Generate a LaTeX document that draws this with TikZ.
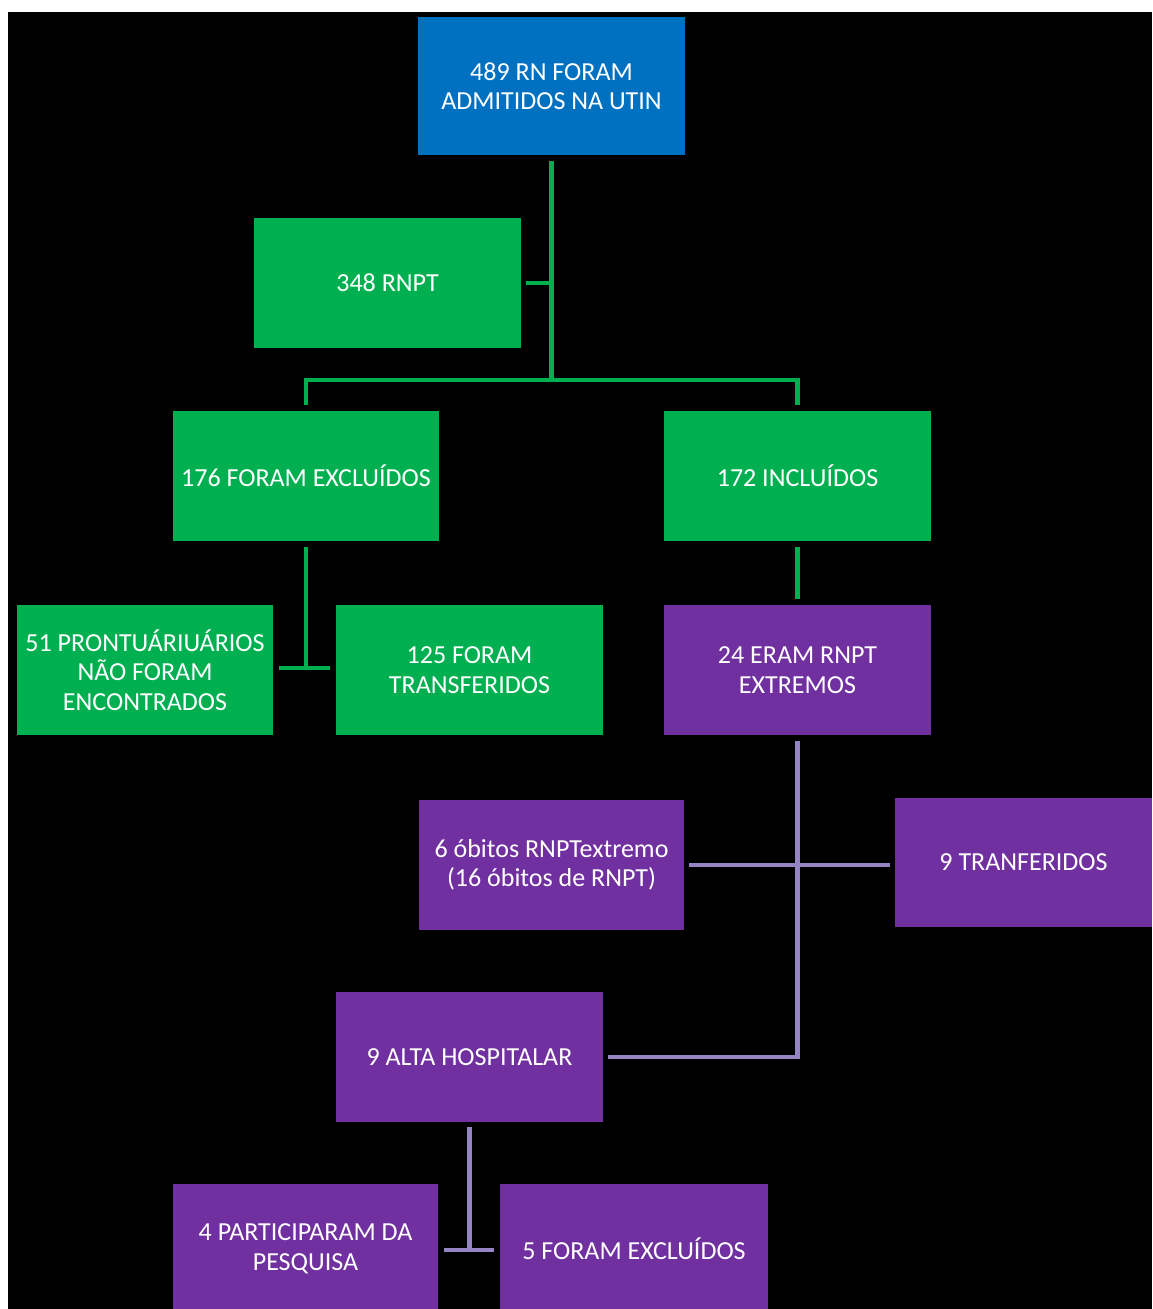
\documentclass[tikz,border=0pt]{standalone}
\usepackage{fontspec}
\setmainfont{Carlito}
\usetikzlibrary{calc}
\definecolor{cblue}{HTML}{0070C0}
\definecolor{cgreen}{HTML}{00B050}
\definecolor{cpurple}{HTML}{7030A0}
\definecolor{clav}{HTML}{9584C4}
\tikzset{
  bx/.style={draw=none, inner sep=0pt, align=center, text=white,
    font=\fontsize{26}{29.5}\selectfont},
  gbox/.style={bx, fill=cgreen},
  pbox/.style={bx, fill=cpurple},
  bbox/.style={bx, fill=cblue},
  gline/.style={draw=cgreen, line width=4.5pt},
  pline/.style={draw=clav, line width=4.5pt},
}
\begin{document}
\begin{tikzpicture}[x=1pt, y=-1pt]
\useasboundingbox (0,0) rectangle (1152,1309);
\fill[white] (0,0) rectangle (1152,1309);
\fill[black] (8,12) rectangle (1152,1309);

\node[bbox, minimum width=267pt, minimum height=138pt] (top) at (551.5,86) {489 RN FORAM\\ADMITIDOS NA UTIN};
\node[gbox, minimum width=267pt, minimum height=130pt] (n348) at (387.5,283) {348 RNPT};
\node[gbox, minimum width=266pt, minimum height=130pt] (excl) at (306,476) {176 FORAM EXCLUÍDOS};
\node[gbox, minimum width=267pt, minimum height=130pt] (incl) at (797.5,476) {172 INCLUÍDOS};
\node[gbox, minimum width=256pt, minimum height=130pt] (pront) at (145,670) {51 PRONTUÁRIUÁRIOS\\NÃO FORAM\\ENCONTRADOS};
\node[gbox, minimum width=267pt, minimum height=130pt] (transf) at (469.5,670) {125 FORAM\\TRANSFERIDOS};
\node[pbox, minimum width=267pt, minimum height=130pt] (eram) at (797.5,670) {24 ERAM RNPT\\EXTREMOS};
\node[pbox, minimum width=265pt, minimum height=130pt] (obitos) at (551.5,865) {6 óbitos RNPTextremo\\(16 óbitos de RNPT)};
\node[pbox, minimum width=257pt, minimum height=129pt] (tranf9) at (1023.5,862.5) {9 TRANFERIDOS};
\node[pbox, minimum width=267pt, minimum height=130pt] (alta) at (469.5,1057) {9 ALTA HOSPITALAR};
\node[pbox, minimum width=265pt, minimum height=130pt] (part) at (305.5,1249) {4 PARTICIPARAM DA\\PESQUISA};
\node[pbox, minimum width=268pt, minimum height=130pt] (excl5) at (634,1249) {5 FORAM EXCLUÍDOS};

\coordinate (j1) at (top.south |- 0,380);
\coordinate (j2) at (excl.south |- 0,668);
\coordinate (j3) at (eram.south |- alta.east);
\coordinate (j4) at (alta.south |- 0,1250);

% green connectors
\draw[gline, shorten <=6pt] (top.south) -- (j1);
\draw[gline, shorten <=5pt] (n348.east) -- (n348.east -| j1);
\draw[gline, shorten <=6pt, shorten >=6pt] (excl.north) -- (excl.north |- j1) -- (incl.north |- j1) -- (incl.north);
\draw[gline, shorten <=6pt] (excl.south) -- (j2);
\draw[gline, shorten <=6pt, shorten >=6pt] (pront.east |- j2) -- (transf.west |- j2);
\draw[gline, shorten <=6pt, shorten >=6pt] (incl.south) -- (eram.north);

% purple connectors
\draw[pline, shorten <=6pt, shorten >=5pt] (eram.south) -- (j3) -- (alta.east);
\draw[pline, shorten <=5pt, shorten >=5pt] (obitos.east) -- (obitos.east -| tranf9.west);
\draw[pline, shorten <=5pt] (alta.south) -- (j4);
\draw[pline, shorten <=6pt, shorten >=6pt] (part.east |- j4) -- (excl5.west |- j4);
\end{tikzpicture}
\end{document}
